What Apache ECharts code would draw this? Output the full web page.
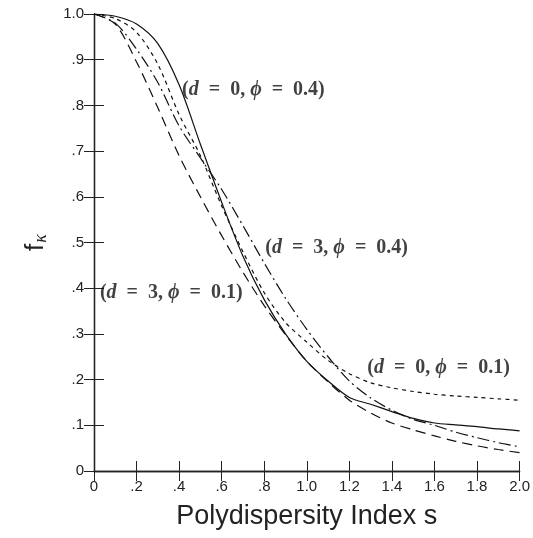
<!DOCTYPE html>
<html>
<head>
<meta charset="utf-8">
<script src="https://cdn.jsdelivr.net/npm/echarts@6/dist/echarts.min.js"></script>
<style>
  html, body { margin: 0; padding: 0; background: #fff; }
  #chart { width: 533px; height: 538px; }
</style>
</head>
<body>
<div id="chart"></div>
<script>
// polydispersity index s
const sValues = [0, 0.1, 0.2, 0.3, 0.4, 0.5, 0.6, 0.7, 0.8, 0.9, 1.0,
                 1.1, 1.2, 1.3, 1.4, 1.5, 1.6, 1.7, 1.8, 1.9, 2.0];

// f_kappa for each case
const d0phi04 = [1.0, 0.995, 0.978, 0.935, 0.845, 0.715, 0.588, 0.47, 0.375, 0.3, 0.24,
                 0.197, 0.161, 0.146, 0.13, 0.115, 0.105, 0.101, 0.097, 0.092, 0.088];
const d0phi01 = [1.0, 0.99, 0.96, 0.89, 0.78, 0.69, 0.58, 0.48, 0.39, 0.325, 0.282,
                 0.242, 0.213, 0.193, 0.182, 0.174, 0.168, 0.164, 0.161, 0.158, 0.155];
const d3phi04 = [1.0, 0.98, 0.923, 0.85, 0.755, 0.685, 0.616, 0.537, 0.455, 0.378, 0.31,
                 0.25, 0.197, 0.16, 0.133, 0.113, 0.1, 0.085, 0.073, 0.062, 0.053];
const d3phi01 = [1.0, 0.978, 0.895, 0.795, 0.69, 0.6, 0.515, 0.435, 0.362, 0.298, 0.24,
                 0.195, 0.155, 0.127, 0.105, 0.09, 0.077, 0.065, 0.055, 0.047, 0.04];

// curve labels: [d, phi] and where they sit (data coords)
const labelCases = [[0, '0.4'], [3, '0.4'], [3, '0.1'], [0, '0.1']];
const labelAt = [[0.414, 0.835], [0.805, 0.489], [0.028, 0.39], [1.284, 0.226]];

const chart = echarts.init(document.getElementById('chart'));

function pairs(ys) {
    return sValues.map((s, i) => [s, ys[i]]);
}

function curve(name, ys, dash) {
    return {
        name: name,
        type: 'line',
        data: pairs(ys),
        symbol: 'none',
        smooth: 0.3,
        lineStyle: { color: '#111', width: 1.2, type: dash },
        silent: true
    };
}

const tickFont = { fontFamily: 'Liberation Sans', fontSize: 15, color: '#222' };

const frame = {
    axisLine: { show: true, lineStyle: { color: '#222', width: 1.3 } },
    axisTick: { show: true, inside: true, length: 10, lineStyle: { color: '#222', width: 1 } },
    splitLine: { show: false }
};

const sp = '\u2002'; // wider space round "=" like the TeX labels

chart.setOption({
    animation: false,
    grid: { left: 94, right: 9, top: 14, bottom: 67 },
    xAxis: [
        Object.assign({
            type: 'value', min: 0, max: 2, interval: 0.2,
            name: 'Polydispersity Index s',
            nameLocation: 'middle',
            nameGap: 32,
            nameTextStyle: { fontFamily: 'Liberation Sans', fontSize: 27, color: '#222' },
            axisLabel: Object.assign({
                margin: 8,
                formatter: function (v) {
                    if (v === 0) return '0';
                    if (v < 1) return v.toFixed(1).replace(/^0/, '');
                    return v.toFixed(1);
                }
            }, tickFont)
        }, frame),
        Object.assign({
            type: 'value', min: 0, max: 2, interval: 0.2, position: 'top',
            axisLabel: { show: false }
        }, frame)
    ],
    yAxis: [
        Object.assign({
            type: 'value', min: 0, max: 1, interval: 0.1,
            name: '{f|f}{k|κ}',
            nameLocation: 'middle',
            nameGap: 44,
            nameRotate: 90,
            nameTextStyle: {
                rich: {
                    f: { fontFamily: 'Liberation Sans', fontSize: 26, color: '#222' },
                    k: { fontFamily: 'Liberation Serif', fontStyle: 'italic', fontSize: 18,
                         color: '#222', padding: [10, 0, 0, 1] }
                }
            },
            axisLabel: Object.assign({
                margin: 10,
                formatter: function (v) {
                    if (v === 0) return '0';
                    if (v >= 1) return '1.0';
                    return v.toFixed(1).replace(/^0/, '');
                }
            }, tickFont)
        }, frame),
        Object.assign({
            type: 'value', min: 0, max: 1, interval: 0.1, position: 'right',
            axisLabel: { show: false }
        }, frame)
    ],
    series: [
        curve('d=0, phi=0.4', d0phi04, 'solid'),
        curve('d=0, phi=0.1', d0phi01, [4, 4]),
        curve('d=3, phi=0.4', d3phi04, [12, 4, 2, 4]),
        curve('d=3, phi=0.1', d3phi01, [10, 6]),
        {
            type: 'scatter',
            symbolSize: 0,
            silent: true,
            data: labelAt.map((p, i) => ({
                value: p,
                label: {
                    show: true,
                    position: 'right',
                    distance: 0,
                    formatter: '({i|d}' + sp + '=' + sp + labelCases[i][0] + ', {i|ϕ}' + sp + '=' + sp + labelCases[i][1] + ')',
                    fontFamily: 'Liberation Serif',
                    fontSize: 20,
                    fontWeight: 'bold',
                    color: '#111',
                    rich: {
                        i: { fontFamily: 'Liberation Serif', fontStyle: 'italic', fontWeight: 'bold',
                             fontSize: 20, color: '#111' }
                    }
                }
            }))
        }
    ]
});
</script>
</body>
</html>
